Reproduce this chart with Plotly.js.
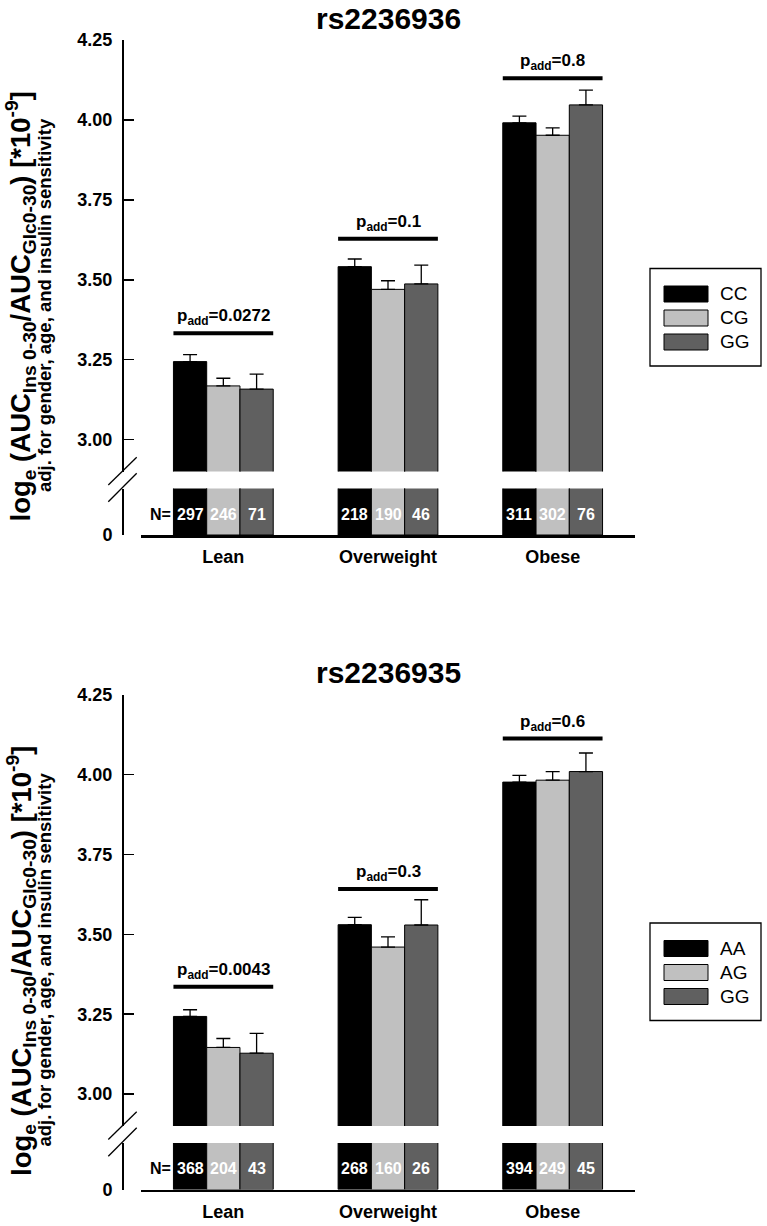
<!DOCTYPE html>
<html><head><meta charset="utf-8">
<script src="https://cdn.plot.ly/plotly-3.0.1.min.js"></script>
<style>html,body{margin:0;padding:0;background:#fff}#chart{width:767px;height:1226px}</style>
</head><body><div id="chart"></div>
<script>
// ---------- DATA ----------
const categories = ['Lean', 'Overweight', 'Obese'];
const yTickVals = [3.00, 3.25, 3.50, 3.75, 4.00, 4.25];

const titleTop = 'rs2236936';
const genotypesTop = ['CC', 'CG', 'GG'];
const topCC = [3.244, 3.541, 3.991];
const topCG = [3.168, 3.470, 3.952];
const topGG = [3.158, 3.487, 4.047];
const topCCerr = [0.022, 0.024, 0.021];
const topCGerr = [0.024, 0.027, 0.023];
const topGGerr = [0.047, 0.059, 0.046];
const topCCn = [297, 218, 311];
const topCGn = [246, 190, 302];
const topGGn = [71, 46, 76];
const topP = ['0.0272', '0.1', '0.8'];

const titleBottom = 'rs2236935';
const genotypesBottom = ['AA', 'AG', 'GG'];
const botAA = [3.243, 3.530, 3.976];
const botAG = [3.146, 3.460, 3.982];
const botGG = [3.128, 3.529, 4.009];
const botAAerr = [0.021, 0.023, 0.021];
const botAGerr = [0.028, 0.032, 0.027];
const botGGerr = [0.062, 0.079, 0.058];
const botAAn = [368, 268, 394];
const botAGn = [204, 160, 249];
const botGGn = [43, 26, 45];
const botP = ['0.0043', '0.3', '0.6'];

const colors = ['#000000', '#c0c0c0', '#606060'];

// ---------- LAYOUT HELPERS ----------
const W = 767, H = 1226;
const FONT = 'Liberation Sans, Arial, Helvetica, sans-serif';
const px = x => x / W;
const py = y => 1 - y / H;
const BARGAP = 0.394;
const BW = (1 - BARGAP) / 3;

const traces = [];
const annotations = [];
const shapes = [];
const layout = {
  width: W, height: H,
  margin: {l: 0, r: 0, t: 0, b: 0},
  paper_bgcolor: '#fff', plot_bgcolor: 'rgba(0,0,0,0)',
  showlegend: false,
  barmode: 'group', bargap: BARGAP, bargroupgap: 0,
  font: {family: FONT, color: '#000'},
  annotations: annotations, shapes: shapes
};

function buildPanel(cfg) {
  const off = cfg.off;
  const xa = cfg.xa, yU = cfg.yU, yL = cfg.yL;
  const xName = xa === 'x' ? 'xaxis' : 'xaxis' + xa.slice(1);
  const yUName = 'yaxis' + (yU === 'y' ? '' : yU.slice(1));
  const yLName = 'yaxis' + yL.slice(1);

  layout[xName] = {
    domain: [px(141), px(635)], anchor: yL, type: 'category',
    range: [-0.5, 2.5], showline: true, linewidth: 2.5, linecolor: '#000',
    ticks: '', showgrid: false, zeroline: false, fixedrange: true,
    tickfont: {family: FONT, size: 18, weight: 700, color: '#000'},
    ticklabelstandoff: 4
  };
  layout[yUName] = {
    domain: [py(471.6 + off), py(40 + off)], anchor: 'free', position: px(122),
    range: [2.9, 4.25], tickvals: yTickVals, tickformat: '.2f',
    showline: true, linewidth: 1.5, linecolor: '#000',
    ticks: 'inside', ticklen: 10, tickwidth: 1.5, tickcolor: '#000',
    showgrid: false, zeroline: false, fixedrange: true,
    tickfont: {family: FONT, size: 18, weight: 700, color: '#000'},
    ticklabelstandoff: 6
  };
  layout[yLName] = {
    domain: [py(535 + off), py(488.5 + off)], anchor: 'free', position: px(122),
    range: [0, 0.5], tickvals: [0], ticktext: ['0'],
    showline: true, linewidth: 1.5, linecolor: '#000',
    ticks: 'inside', ticklen: 10, tickwidth: 1.5, tickcolor: '#000',
    showgrid: false, zeroline: false, fixedrange: true,
    tickfont: {family: FONT, size: 18, weight: 700, color: '#000'},
    ticklabelstandoff: 6
  };

  for (let k = 0; k < 3; k++) {
    const base = {
      type: 'bar', x: categories, y: cfg.means[k], name: cfg.names[k],
      xaxis: xa, marker: {color: colors[k], line: {color: '#000', width: 1}},
      hoverinfo: 'skip', showlegend: false
    };
    traces.push(Object.assign({}, base, {
      yaxis: yU,
      error_y: {type: 'data', symmetric: false, array: cfg.errs[k],
        arrayminus: cfg.errs[k].map(() => 0), color: '#000', thickness: 1.3, width: 7}
    }));
    traces.push(Object.assign({}, base, {yaxis: yL}));

    // N labels in the lower segment
    for (let i = 0; i < 3; i++) {
      annotations.push({
        xref: xa, yref: yL + ' domain', x: i + (k - 1) * BW, y: 0.45,
        text: String(cfg.ns[k][i]), showarrow: false, xanchor: 'center', yanchor: 'middle',
        font: {family: FONT, size: 16, weight: 700, color: '#fff'}
      });
    }
    // legend
    const ry = 286 + off + k * 24;
    shapes.push({type: 'rect', xref: 'paper', yref: 'paper',
      x0: px(664), x1: px(708), y0: py(ry + 16), y1: py(ry),
      fillcolor: colors[k], line: {color: '#000', width: 1}});
    annotations.push({xref: 'paper', yref: 'paper', x: px(718), y: py(ry + 8),
      text: cfg.names[k], showarrow: false, xanchor: 'left', yanchor: 'middle',
      font: {family: FONT, size: 19, color: '#000'}});
  }
  annotations.push({
    xref: xa, yref: yL + ' domain', x: -1.5 * BW, y: 0.45, text: 'N=',
    showarrow: false, xanchor: 'right', yanchor: 'middle',
    font: {family: FONT, size: 16, weight: 700, color: '#000'}
  });
  // legend box
  shapes.push({type: 'rect', xref: 'paper', yref: 'paper',
    x0: px(650), x1: px(761), y0: py(366 + off), y1: py(268.5 + off),
    fillcolor: 'rgba(0,0,0,0)', line: {color: '#000', width: 1.3}});

  // p-value bars and labels
  for (let i = 0; i < 3; i++) {
    const half = (1 - BARGAP) / 2;
    shapes.push({type: 'line', xref: xa, yref: yU, x0: i - half, x1: i + half,
      y0: cfg.pLineY[i], y1: cfg.pLineY[i], line: {color: '#000', width: 4}});
    annotations.push({xref: xa, yref: yU, x: i, y: cfg.pLineY[i],
      text: 'p<sub>add</sub>=' + cfg.ps[i], showarrow: false,
      xanchor: 'center', yanchor: 'bottom', yshift: 3,
      font: {family: FONT, size: 17, weight: 700, color: '#000'}});
  }

  // axis break marks
  [[485, 457.3], [501.7, 473.3]].forEach(([ya, yb]) => {
    shapes.push({type: 'line', xref: 'paper', yref: 'paper',
      x0: px(108.3), y0: py(ya + off), x1: px(136.7), y1: py(yb + off),
      line: {color: '#000', width: 1.3}});
  });

  // titles
  annotations.push({xref: 'paper', yref: 'paper', x: px(388), y: py(18 + off),
    text: cfg.title, showarrow: false, xanchor: 'center', yanchor: 'middle',
    font: {family: FONT, size: 30, weight: 700, color: '#000'}});
  annotations.push({xref: 'paper', yref: 'paper', x: px(20.5), y: py(307 + off),
    text: 'log<sub>e</sub> (AUC<sub>Ins 0-30</sub>/AUC<sub>Glc0-30</sub>) [*10<sup>-9</sup>]',
    textangle: -90, showarrow: false, xanchor: 'center', yanchor: 'middle',
    font: {family: FONT, size: 27.5, weight: 700, color: '#000'}});
  annotations.push({xref: 'paper', yref: 'paper', x: px(44), y: py(305 + off),
    text: 'adj. for gender, age, and insulin sensitivity',
    textangle: -90, showarrow: false, xanchor: 'center', yanchor: 'middle',
    font: {family: FONT, size: 18.5, weight: 700, color: '#000'}});
}

buildPanel({
  off: 0, xa: 'x', yU: 'y', yL: 'y2', title: titleTop, names: genotypesTop,
  means: [topCC, topCG, topGG], errs: [topCCerr, topCGerr, topGGerr],
  ns: [topCCn, topCGn, topGGn], ps: topP, pLineY: [3.333, 3.628, 4.13]
});
buildPanel({
  off: 654.5, xa: 'x2', yU: 'y3', yL: 'y4', title: titleBottom, names: genotypesBottom,
  means: [botAA, botAG, botGG], errs: [botAAerr, botAGerr, botGGerr],
  ns: [botAAn, botAGn, botGGn], ps: botP, pLineY: [3.336, 3.642, 4.112]
});

Plotly.newPlot('chart', traces, layout, {displayModeBar: false, staticPlot: true});
</script>
</body></html>
